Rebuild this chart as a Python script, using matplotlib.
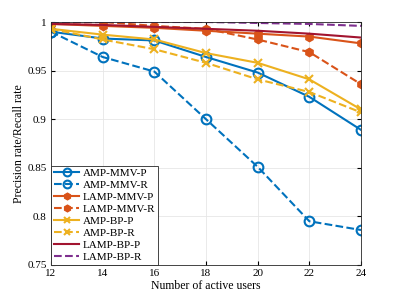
import matplotlib.pyplot as plt

plt.rcParams['font.family'] = ['Liberation Serif', 'DejaVu Serif']

users = [12, 14, 16, 18, 20, 22, 24]
amp_mmv_p = [0.990, 0.983, 0.981, 0.964, 0.948, 0.923, 0.889]
amp_mmv_r = [0.990, 0.964, 0.949, 0.900, 0.851, 0.795, 0.786]
lamp_mmv_p = [0.998, 0.996, 0.994, 0.991, 0.988, 0.985, 0.978]
lamp_mmv_r = [0.999, 1.000, 0.996, 0.993, 0.982, 0.969, 0.936]
amp_bp_p = [0.993, 0.987, 0.982, 0.968, 0.958, 0.941, 0.910]
amp_bp_r = [0.993, 0.982, 0.972, 0.958, 0.941, 0.928, 0.907]
lamp_bp_p = [0.998, 0.997, 0.995, 0.993, 0.991, 0.988, 0.984]
lamp_bp_r = [1.000, 1.000, 1.000, 1.000, 0.999, 0.998, 0.996]

blue = '#0072BD'
orange = '#D95319'
yellow = '#EDB120'
purple = '#7E2F8E'
darkred = '#A2142F'

fig = plt.figure(figsize=(3.99, 2.99), dpi=100)
ax = fig.add_axes([51/399, 1-265/299, 310/399, 243/299])

ax.plot(users, amp_mmv_p, '-o', color=blue, lw=1.5, ms=7, mfc='none', mew=1.5, label='AMP-MMV-P')
ax.plot(users, amp_mmv_r, '--o', color=blue, lw=1.5, ms=7, mfc='none', mew=1.5, label='AMP-MMV-R')
ax.plot(users, lamp_mmv_p, '-h', color=orange, lw=1.5, ms=6, label='LAMP-MMV-P')
ax.plot(users, lamp_mmv_r, '--h', color=orange, lw=1.5, ms=6, label='LAMP-MMV-R')
ax.plot(users, amp_bp_p, '-x', color=yellow, lw=1.5, ms=6, mew=1.5, label='AMP-BP-P')
ax.plot(users, amp_bp_r, '--x', color=yellow, lw=1.5, ms=6, mew=1.5, label='AMP-BP-R')
ax.plot(users, lamp_bp_p, '-', color=darkred, lw=1.5, label='LAMP-BP-P')
ax.plot(users, lamp_bp_r, '--', color=purple, lw=1.5, label='LAMP-BP-R')

ax.set_xlim(12, 24)
ax.set_ylim(0.75, 1.0)
ax.set_xticks(users)
ax.set_yticks([0.75, 0.8, 0.85, 0.9, 0.95, 1.0])
ax.set_yticklabels(['0.75', '0.8', '0.85', '0.9', '0.95', '1'])
ax.grid(True, color='#e6e6e6', lw=0.6)
ax.set_axisbelow(True)
ax.tick_params(direction='in', labelsize=8, length=3, top=True, right=True, pad=3)
for s in ax.spines.values():
    s.set_color('#262626')
    s.set_linewidth(0.6)
ax.set_xlabel('Number of active users', fontsize=8.5, labelpad=1)
ax.set_ylabel('Precision rate/Recall rate', fontsize=8.5, labelpad=2)

leg = ax.legend(loc='lower left', fontsize=8, frameon=True, fancybox=False,
                borderaxespad=0, handlelength=2.3, labelspacing=0.2, borderpad=0.25,
                handletextpad=0.3, markerscale=0.8)
leg.get_frame().set_edgecolor('#262626')
leg.get_frame().set_linewidth(0.6)
leg.get_frame().set_alpha(1)

fig.savefig('out.png', dpi=100)
